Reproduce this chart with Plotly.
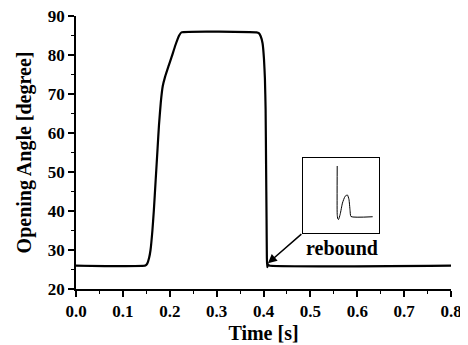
import plotly.graph_objects as go

# Main curve: opening angle vs time
time_s = [0.0, 0.148, 0.152, 0.156, 0.159, 0.163, 0.166, 0.170, 0.174, 0.177, 0.181,
          0.185, 0.190, 0.197, 0.204, 0.212, 0.220, 0.225, 0.385, 0.390, 0.394,
          0.398, 0.401, 0.403, 0.4045, 0.4055, 0.4065, 0.4072, 0.408, 0.410, 0.412, 0.8]
angle_deg = [26.0, 26.0, 26.5, 28.0, 30.0, 35.0, 40.0, 48.0, 56.0, 62.0, 68.0,
             72.0, 74.4, 77.0, 79.5, 82.5, 85.0, 85.8, 85.8, 85.6, 84.8,
             83.0, 79.0, 74.0, 66.0, 52.0, 38.0, 28.0, 25.6, 26.3, 26.0, 26.0]

# Inset: magnified rebound (normalised inset coordinates)
rebound_x = [0.451, 0.451, 0.458, 0.468, 0.49, 0.52, 0.555, 0.585, 0.605, 0.62, 0.632, 0.917]
rebound_y = [0.893, 0.25, 0.19, 0.18, 0.25, 0.40, 0.49, 0.507, 0.45, 0.30, 0.22, 0.217]

x_ticks = [0.0, 0.1, 0.2, 0.3, 0.4, 0.5, 0.6, 0.7, 0.8]
x_ticklabels = ["0.0", "0.1", "0.2", "0.3", "0.4", "0.5", "0.6", "0.7", "0.8"]
y_ticks = [20, 30, 40, 50, 60, 70, 80, 90]

FONT = "Liberation Serif"

fig = go.Figure()
fig.add_trace(go.Scatter(x=time_s, y=angle_deg, mode="lines",
                         line=dict(color="black", width=2.2, shape="spline", smoothing=0.4),
                         showlegend=False, hoverinfo="skip"))
fig.add_trace(go.Scatter(x=rebound_x, y=rebound_y, mode="lines", xaxis="x2", yaxis="y2",
                         line=dict(color="black", width=1, shape="spline", smoothing=0.5),
                         showlegend=False, hoverinfo="skip"))

axis_font = dict(family=FONT, size=17, color="black", weight="bold")
title_font = dict(family=FONT, size=20, color="black", weight="bold")

# page body has an 8px default margin, so the figure is 8px smaller and margins shifted
fig.update_layout(
    width=460, height=337,
    margin=dict(l=68, r=17, t=8, b=56),
    paper_bgcolor="white", plot_bgcolor="white",
    xaxis=dict(range=[0, 0.8], tickvals=x_ticks, ticktext=x_ticklabels, automargin=False,
               ticklabeloverflow="allow",
               showgrid=False, zeroline=False, showline=True, linecolor="black", linewidth=1.5,
               ticks="outside", ticklen=6, tickwidth=1.5, tickcolor="black",
               minor=dict(dtick=0.05, ticks="outside", ticklen=3, tickwidth=1.2, tickcolor="black", showgrid=False),
               tickfont=axis_font,
               title=dict(text="Time [s]", font=title_font, standoff=6)),
    yaxis=dict(range=[20, 90], tickvals=y_ticks, automargin=False,
               ticklabeloverflow="allow",
               showgrid=False, zeroline=False, showline=True, linecolor="black", linewidth=1.5,
               ticks="outside", ticklen=6, tickwidth=1.5, tickcolor="black",
               minor=dict(dtick=5, ticks="outside", ticklen=3, tickwidth=1.2, tickcolor="black", showgrid=False),
               tickfont=axis_font,
               title=dict(text="Opening Angle [degree]", font=title_font, standoff=11)),
    xaxis2=dict(domain=[0.605, 0.808], anchor="y2", range=[0, 1],
                showgrid=False, zeroline=False, showticklabels=False, ticks="",
                showline=True, mirror=True, linecolor="black", linewidth=1.2),
    yaxis2=dict(domain=[0.205, 0.48], anchor="x2", range=[0, 1],
                showgrid=False, zeroline=False, showticklabels=False, ticks="",
                showline=True, mirror=True, linecolor="black", linewidth=1.2),
)

fig.add_annotation(x=0.4094, y=26.6, ax=0.484, ay=34.4, xref="x", yref="y",
                   axref="x", ayref="y", text="", showarrow=True,
                   arrowhead=2, arrowsize=1.2, arrowwidth=1.5, arrowcolor="black")
fig.add_annotation(x=0.567, y=30.5, xref="x", yref="y", text="rebound", showarrow=False,
                   font=dict(family=FONT, size=20, color="black", weight="bold"))

fig.write_html("out.html")
